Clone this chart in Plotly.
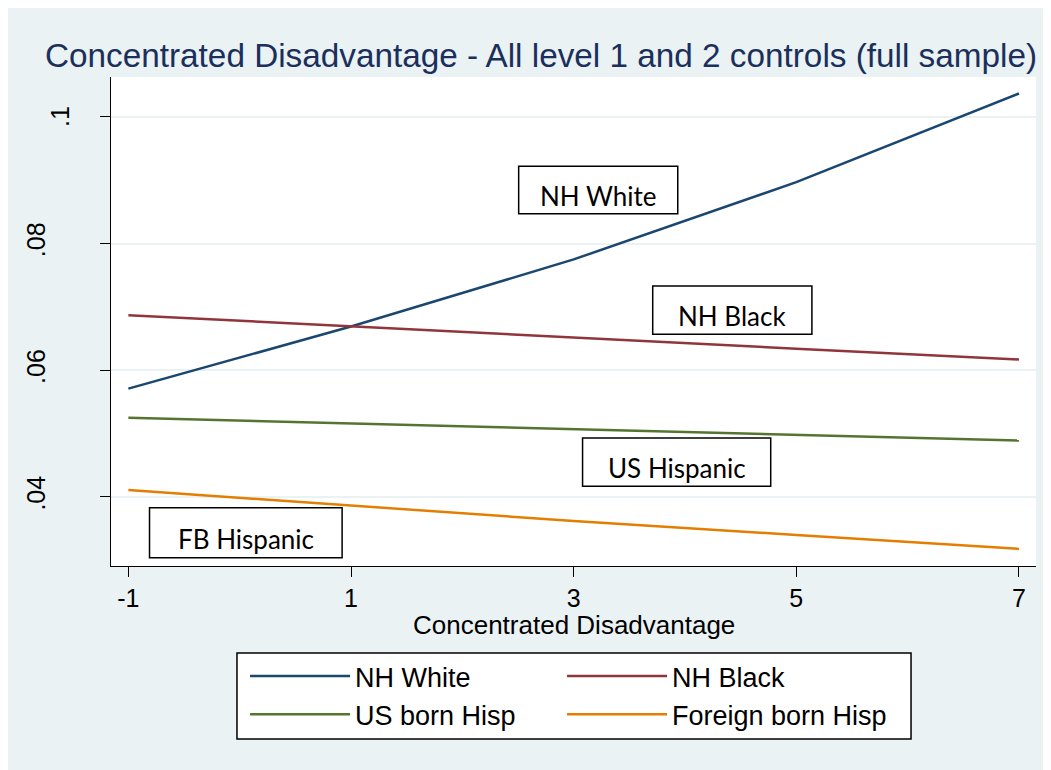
import plotly.graph_objects as go

# ---- data ----
x_vals = [-1, 1, 3, 5, 7]
nh_white = [0.0571, 0.0669, 0.0775, 0.0897, 0.1037]
nh_black = [0.0687, 0.0669, 0.0652, 0.0634, 0.0617]
us_hisp = [0.0525, 0.0516, 0.0506, 0.0497, 0.0489]
fb_hisp = [0.0411, 0.0387, 0.0362, 0.0340, 0.0318]

series_names = ["NH White", "NH Black", "US born Hisp", "Foreign born Hisp"]
series_colors = ["#1a476f", "#90353b", "#55752f", "#e37e00"]
series_legend = ["legend", "legend2", "legend", "legend2"]

x_ticks = [-1, 1, 3, 5, 7]
x_ticktext = ["-1", "1", "3", "5", "7"]
y_ticks = [0.04, 0.06, 0.08, 0.1]
y_ticktext = [".04", ".06", ".08", ".1"]

box_labels = ["NH White", "NH Black", "US Hispanic", "FB Hispanic"]
box_x0 = [2.506, 3.71, 3.08, -0.81]
box_x1 = [3.935, 5.14, 4.77, 0.92]
box_y0 = [0.0847, 0.0657, 0.0417, 0.0304]
box_y1 = [0.0922, 0.0733, 0.0493, 0.0383]

title_text = "Concentrated Disadvantage - All level 1 and 2 controls (full sample)"
x_title = "Concentrated Disadvantage"

BG = "#eaf2f3"

fig = go.Figure()
for name, ys, col, lg in zip(series_names, [nh_white, nh_black, us_hisp, fb_hisp],
                             series_colors, series_legend):
    fig.add_trace(go.Scatter(x=x_vals, y=ys, mode="lines", name=name, legend=lg,
                             line=dict(color=col, width=2.5)))

shapes = []
annotations = []
for lab, a0, a1, b0, b1 in zip(box_labels, box_x0, box_x1, box_y0, box_y1):
    shapes.append(dict(type="rect", xref="x", yref="y", x0=a0, x1=a1, y0=b0, y1=b1,
                       line=dict(color="black", width=1.5), fillcolor="rgba(0,0,0,0)"))
    annotations.append(dict(x=(a0 + a1) / 2, y=b0 + (b1 - b0) * 0.38, xref="x", yref="y",
                            text=lab, showarrow=False,
                            font=dict(family="Lato, Open Sans, sans-serif", size=26, color="black")))

# x axis title
annotations.append(dict(x=0.5, y=0, xref="paper", yref="paper", yshift=-59,
                        xanchor="center", yanchor="middle", showarrow=False,
                        text=x_title, font=dict(size=26, color="black")))

# top y tick label ".1" sits further right in the reference
annotations.append(dict(x=0, y=y_ticks[-1], xref="paper", yref="y", xshift=-51,
                        xanchor="center", yanchor="middle", showarrow=False, textangle=-90,
                        text=y_ticktext[-1], font=dict(size=25, color="black")))
y_ticktext_axis = y_ticktext[:-1] + [""]

# legend frame
shapes.append(dict(type="rect", xref="paper", yref="paper",
                   x0=0.1362, x1=0.8649, y0=-0.3538, y1=-0.1779,
                   line=dict(color="black", width=1.5), fillcolor="white", layer="above"))

legend_common = dict(orientation="v", yanchor="top", y=-0.176, xanchor="left",
                     bgcolor="rgba(0,0,0,0)", borderwidth=0,
                     font=dict(size=27), itemwidth=100, traceorder="normal")

fig.update_layout(
    width=1051, height=770,
    margin=dict(l=103, r=23, t=69, b=212),
    paper_bgcolor=BG, plot_bgcolor="white",
    font=dict(family="Liberation Sans, Arial, sans-serif", color="black"),
    title=dict(text=title_text, x=533 / 1051, xref="container", xanchor="center",
               y=1 - 47 / 770, yref="container", yanchor="middle",
               font=dict(size=33.3, color="#1a2f5c", family="Liberation Sans, Arial, sans-serif")),
    xaxis=dict(range=[-1.156, 7.153], tickvals=x_ticks, ticktext=x_ticktext,
               ticks="outside", ticklen=10, automargin=False,
               tickcolor="black", tickwidth=1, showgrid=False, zeroline=False,
               showline=True, linecolor="black", linewidth=1.2,
               tickfont=dict(size=25)),
    yaxis=dict(range=[0.0291, 0.1063], tickvals=y_ticks, ticktext=y_ticktext_axis, automargin=False,
               tickangle=-90, ticks="outside", ticklen=10, tickcolor="black", tickwidth=1,
               showgrid=True, gridcolor=BG, gridwidth=2, zeroline=False,
               showline=True, linecolor="black", linewidth=1.2,
               tickfont=dict(size=25), ticklabelstandoff=45),
    legend=dict(x=0.1449, **legend_common),
    legend2=dict(x=0.4876, **legend_common),
    shapes=shapes,
    annotations=annotations,
)

fig.write_html("out.html")
